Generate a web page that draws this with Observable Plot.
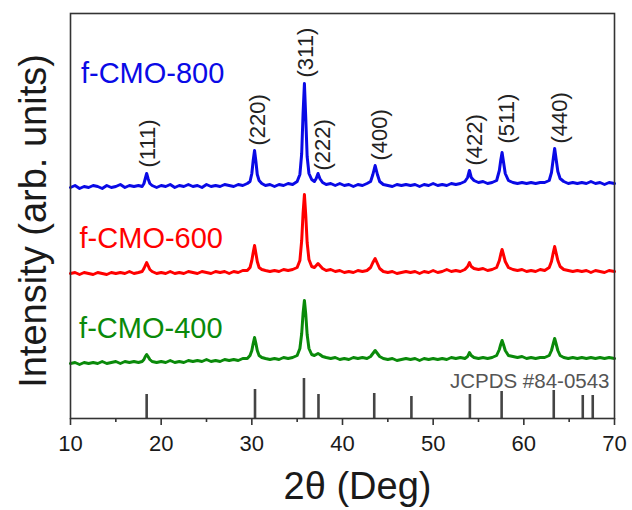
<!DOCTYPE html>
<html>
<head>
<meta charset="utf-8">
<script src="https://cdn.jsdelivr.net/npm/d3@7"></script>
<script src="https://cdn.jsdelivr.net/npm/@observablehq/plot@0.6"></script>
<style>
  html, body { margin: 0; padding: 0; background: #fff; }
  #chart { width: 632px; height: 510px; }
</style>
</head>
<body>
<div id="chart"></div>
<script>
// 2θ grid (deg), shared by the three patterns
const twoTheta = [
  10.0,10.5,11.0,11.5,12.0,12.5,13.0,13.5,14.0,14.5,15.0,15.5,16.0,16.5,17.0,17.5,
  17.9,18.1,18.25,18.4,18.55,18.75,
  19.0,19.5,20.0,20.5,21.0,21.5,22.0,22.5,23.0,23.5,24.0,24.5,25.0,25.5,26.0,26.5,27.0,27.5,28.0,28.5,29.0,29.5,
  29.8,30.0,30.15,30.3,30.45,30.6,30.8,31.1,
  31.5,32.0,32.5,33.0,33.5,34.0,34.5,35.0,
  35.3,35.5,35.65,35.8,35.95,36.1,36.3,36.6,36.9,37.1,37.3,37.5,37.8,
  38.2,38.7,39.2,39.7,40.2,40.7,41.2,41.7,42.2,42.7,
  43.1,43.35,43.6,43.85,44.1,
  44.5,45.0,45.5,46.0,46.5,47.0,47.5,48.0,48.5,49.0,49.5,50.0,50.5,51.0,51.5,52.0,52.5,53.0,53.5,
  53.8,54.0,54.2,
  54.5,55.0,55.5,56.0,56.5,57.0,
  57.3,57.45,57.6,57.75,57.95,
  58.3,58.8,59.3,59.8,60.3,60.8,61.3,61.8,62.3,62.8,
  63.05,63.25,63.4,63.55,63.75,64.0,
  64.4,64.9,65.4,65.9,66.4,66.9,67.4,67.9,68.4,68.9,69.4,
  70.0
];

// Intensities (arb. units, offset stacked)
const cmo800 = [
  231,233,230,232,231,233,232,230,233,231,232,234,231,233,232,233,
  232,235,240,245,240,235,
  233,231,233,232,234,231,233,232,234,232,233,231,234,232,233,232,234,233,232,234,233,235,
  237,245,258,268,257,244,238,235,
  233,234,232,234,233,235,234,237,
  244,265,305,335,300,262,245,239,237,240,245,240,236,
  234,235,233,235,233,234,232,234,233,235,
  237,244,253,244,237,
  234,233,232,234,233,234,233,234,232,234,233,235,233,234,233,235,234,235,237,
  241,248,241,
  238,236,237,235,236,238,
  248,258,266,257,245,
  238,236,235,236,235,236,235,236,236,238,
  246,260,270,260,247,240,
  237,235,236,235,236,235,237,235,236,234,236,
  235
];
const cmo600 = [
  145,146,144,146,145,144,146,145,144,146,145,146,145,147,145,146,
  147,150,153,156,153,149,
  147,145,146,145,147,145,146,145,147,146,145,147,146,145,147,146,147,145,147,146,148,148,
  151,158,166,173,165,157,151,149,
  148,147,148,147,149,148,149,151,
  158,178,205,224,203,176,159,152,151,153,155,153,150,
  148,149,147,148,146,147,146,148,147,148,
  151,156,160,155,150,
  147,146,147,145,146,147,146,147,145,147,146,148,146,147,149,147,148,147,149,
  152,156,152,
  150,149,150,148,149,151,
  158,164,169,164,157,
  151,149,148,149,147,148,147,149,148,151,
  157,166,172,166,158,152,
  149,148,147,148,147,148,146,148,147,146,148,
  147
];
const cmo400 = [
  55,56,54,56,55,56,55,57,55,56,57,55,57,56,57,56,
  57,59,62,64,62,59,
  57,56,57,56,58,56,57,56,58,57,58,57,59,57,58,57,59,58,59,58,60,60,
  63,68,75,81,75,68,63,61,
  60,59,60,59,61,60,61,63,
  70,85,105,118,104,84,70,64,63,64,65,64,62,
  61,60,61,59,60,59,61,60,61,60,
  62,65,68,65,62,
  60,59,60,58,59,60,59,60,58,60,59,60,59,60,59,61,60,61,60,
  62,66,63,
  61,60,61,60,61,63,
  69,74,78,74,68,
  63,62,61,62,60,61,60,61,61,63,
  68,75,80,75,68,63,
  61,60,61,60,61,60,61,60,61,60,61,
  60
];

const seriesNames = ["f-CMO-800", "f-CMO-600", "f-CMO-400"];
const seriesColors = ["#0a0ae6", "#ff0000", "#0a8a0a"];
const seriesLabelX = [11.15, 11.0, 10.95];
const seriesLabelY = [336, 171, 81];

// JCPDS #84-0543 reference lines
const refPos = [18.4, 30.35, 35.75, 37.35, 43.5, 47.6, 54.05, 57.55, 63.3, 66.5, 67.6];
const refHeight = [24, 29, 40, 24, 25, 22, 24, 27, 28, 23, 23];
const refLabel = "JCPDS #84-0543";

// Miller indices
const hkl = ["(111)", "(220)", "(311)", "(222)", "(400)", "(422)", "(511)", "(440)"];
const hklX = [18.49, 30.62, 35.92, 37.79, 44.08, 54.56, 58.09, 63.93];
const hklY = [251, 273, 341, 248, 258, 253, 275, 275];

const xMajor = [10, 20, 30, 40, 50, 60, 70];
const xMinor = [15, 25, 35, 45, 55, 65];

const seriesValues = [cmo800, cmo600, cmo400];
const lineMarks = seriesValues.map((vals, i) =>
  Plot.line(twoTheta.map((t, j) => ({t, v: vals[j]})), {
    x: "t", y: "v", stroke: seriesColors[i], strokeWidth: 3, strokeLinejoin: "round"
  })
);

const chart = Plot.plot({
  width: 632,
  height: 510,
  marginLeft: 70,
  marginRight: 18,
  marginTop: 13,
  marginBottom: 92,
  style: {fontFamily: "'Liberation Sans', Arial, Helvetica, sans-serif", color: "#1a1a1a", background: "#fff"},
  x: {domain: [10, 70]},
  y: {domain: [0, 405], axis: null},
  marks: [
    Plot.ruleX(refPos.map((p, i) => ({p, h: refHeight[i]})), {x: "p", y1: 0, y2: "h", stroke: "#444", strokeWidth: 2.6}),
    ...lineMarks,
    Plot.text(seriesNames.map((n, i) => ({n, x: seriesLabelX[i], y: seriesLabelY[i], c: seriesColors[i]})), {
      x: "x", y: "y", text: "n", fill: "c", textAnchor: "start", lineAnchor: "bottom", fontSize: 29
    }),
    Plot.text(hkl.map((h, i) => ({h, x: hklX[i], y: hklY[i]})), {
      x: "x", y: "y", text: "h", rotate: -90, textAnchor: "start", fontSize: 22, fill: "#222"
    }),
    Plot.text([refLabel], {x: 69.45, y: 31, textAnchor: "end", lineAnchor: "bottom", fontSize: 20.5, fill: "#555"}),
    Plot.frame({stroke: "#333", strokeWidth: 1.6}),
    Plot.axisX(xMajor, {tickSize: 7, tickPadding: 10, fontSize: 22, label: null, strokeWidth: 1.6, stroke: "#333"}),
    Plot.axisX(xMinor, {tickSize: 4, tickFormat: () => "", label: null, strokeWidth: 1.6, stroke: "#333"}),
    Plot.text(["2θ (Deg)"], {frameAnchor: "bottom", dx: 15, dy: 80, textAnchor: "middle", lineAnchor: "bottom", fontSize: 38, fill: "#1a1a1a"}),
    Plot.text(["Intensity (arb. units)"], {frameAnchor: "left", rotate: -90, dx: -37, dy: 5, textAnchor: "middle", lineAnchor: "middle", fontSize: 38, fill: "#1a1a1a"})
  ]
});
document.getElementById("chart").appendChild(chart);
</script>
</body>
</html>
